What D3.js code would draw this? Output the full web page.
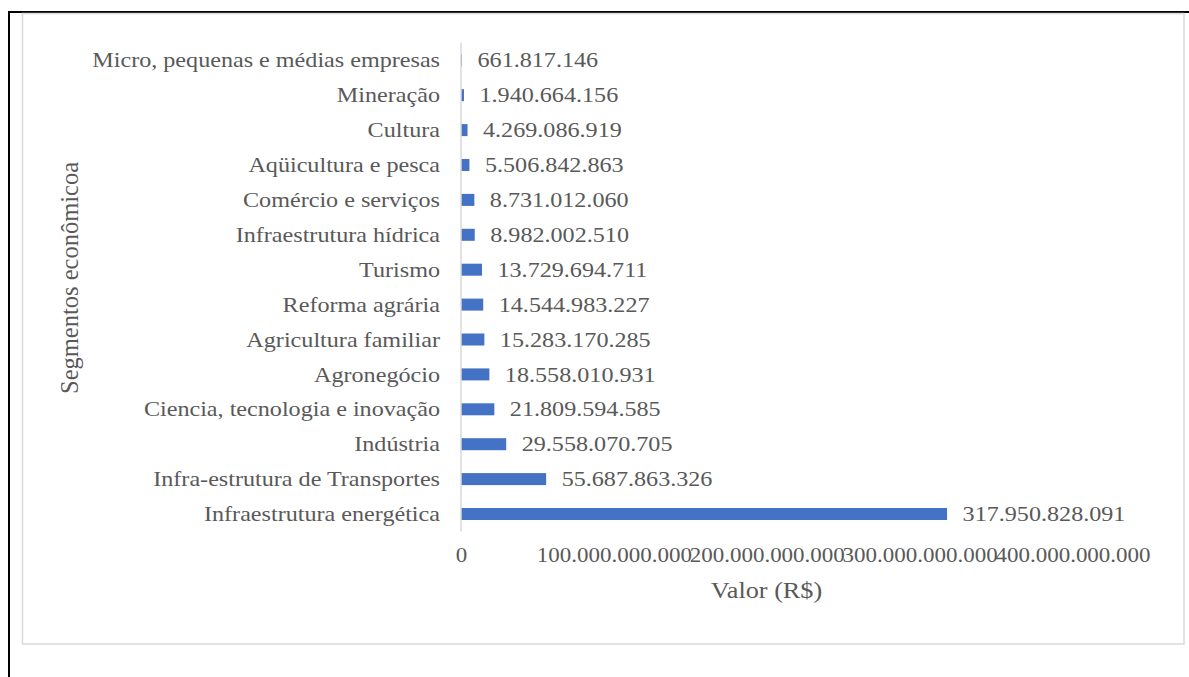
<!DOCTYPE html>
<html>
<head>
<meta charset="utf-8">
<script src="https://cdn.jsdelivr.net/npm/d3@7"></script>
<style>
  html, body { margin: 0; padding: 0; background: #fff; }
  svg { display: block; }
  text { font-family: "Liberation Serif", "Times New Roman", serif; fill: #595959; }
</style>
</head>
<body>
<svg id="chart" width="1189" height="677"></svg>
<script>
// Investment per economic segment (R$), listed top to bottom
const categories = [
  "Micro, pequenas e médias empresas",
  "Mineração",
  "Cultura",
  "Aqüicultura e pesca",
  "Comércio e serviços",
  "Infraestrutura hídrica",
  "Turismo",
  "Reforma agrária",
  "Agricultura familiar",
  "Agronegócio",
  "Ciencia, tecnologia e inovação",
  "Indústria",
  "Infra-estrutura de Transportes",
  "Infraestrutura energética"
];
const values = [
  661817146,
  1940664156,
  4269086919,
  5506842863,
  8731012060,
  8982002510,
  13729694711,
  14544983227,
  15283170285,
  18558010931,
  21809594585,
  29558070705,
  55687863326,
  317950828091
];
const tickValues = [0, 100000000000, 200000000000, 300000000000, 400000000000];
const xTitle = "Valor (R$)";
const yTitle = "Segmentos econômicoa";

const data = categories.map((c, i) => ({ category: c, value: values[i] }));

// Brazilian number formatting: dots as thousands separators
const fmt = d3.formatLocale({ decimal: ",", thousands: ".", grouping: [3], currency: ["R$", ""] }).format(",.0f");

const svg = d3.select("#chart");

// outer page frame (top and left rules)
svg.append("line").attr("x1", 8).attr("x2", 1189).attr("y1", 12).attr("y2", 12)
  .attr("stroke", "#000").attr("stroke-width", 2);
svg.append("line").attr("x1", 9).attr("x2", 9).attr("y1", 11).attr("y2", 677)
  .attr("stroke", "#000").attr("stroke-width", 2);

// chart area border
svg.append("rect").attr("x", 22.5).attr("y", 13.5).attr("width", 1161.5).attr("height", 630.5)
  .attr("fill", "none").attr("stroke", "#d9d9d9").attr("stroke-width", 1.5);

const x = d3.scaleLinear().domain([0, 400000000000]).range([461, 1072.5]);
const y = d3.scaleBand().domain(categories).range([42.85, 531.45])
  .paddingInner(0.656).paddingOuter(0.328);

const sx = 1.15; // horizontal text stretch

// bars
svg.append("g").selectAll("rect").data(data).join("rect")
  .attr("x", x(0))
  .attr("y", d => y(d.category))
  .attr("width", d => x(d.value) - x(0))
  .attr("height", y.bandwidth())
  .attr("fill", "#4472C4");

// vertical category axis line
svg.append("line").attr("x1", x(0)).attr("x2", x(0))
  .attr("y1", y.range()[0]).attr("y2", y.range()[1])
  .attr("stroke", "#d9d9d9").attr("stroke-width", 1.5);

// category labels
svg.append("g").selectAll("text").data(data).join("text")
  .attr("transform", d => `translate(440,${y(d.category) + y.bandwidth() / 2}) scale(${sx},1)`)
  .attr("text-anchor", "end")
  .attr("dy", "0.34em")
  .style("font-size", "21px")
  .text(d => d.category);

// value labels
svg.append("g").selectAll("text").data(data).join("text")
  .attr("transform", d => `translate(${x(d.value) + 15.5},${y(d.category) + y.bandwidth() / 2}) scale(${sx},1)`)
  .attr("text-anchor", "start")
  .attr("dy", "0.34em")
  .style("font-size", "21px")
  .text(d => fmt(d.value));

// x axis tick labels
const xAxis = d3.axisBottom(x).tickValues(tickValues).tickSize(0).tickPadding(0).tickFormat(fmt);
const gx = svg.append("g").attr("transform", "translate(0,548)").call(xAxis);
gx.select(".domain").remove();
gx.selectAll("text")
  .attr("x", 0).attr("y", 0).attr("dy", "0.71em")
  .attr("transform", `scale(${sx},1)`)
  .style("font-size", "20px")
  .style("font-family", "'Liberation Serif', 'Times New Roman', serif")
  .attr("fill", "#595959");

// axis titles
svg.append("text")
  .attr("transform", `translate(766.5,598) scale(${sx},1)`)
  .attr("text-anchor", "middle")
  .style("font-size", "22.8px")
  .text(xTitle);

svg.append("text")
  .attr("transform", "translate(78,278) rotate(-90)")
  .attr("text-anchor", "middle")
  .style("font-size", "24.5px")
  .text(yTitle);
</script>
</body>
</html>
